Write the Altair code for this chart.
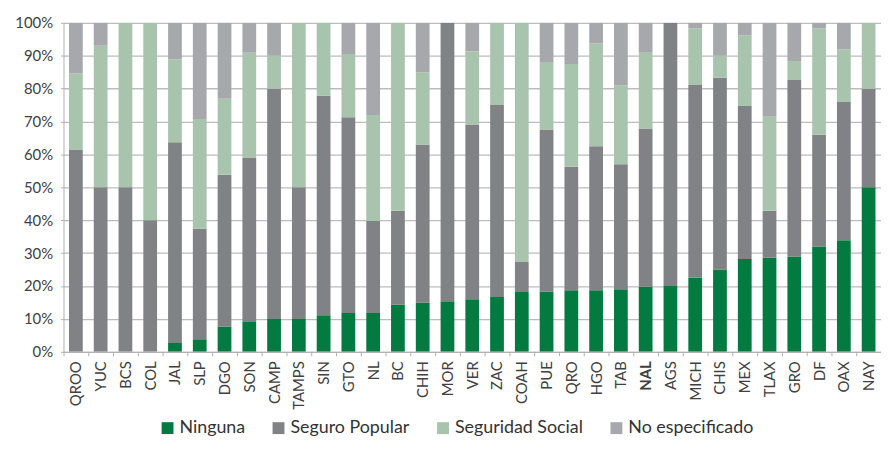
import altair as alt
import pandas as pd

states = ["QROO", "YUC", "BCS", "COL", "JAL", "SLP", "DGO", "SON", "CAMP", "TAMPS",
          "SIN", "GTO", "NL", "BC", "CHIH", "MOR", "VER", "ZAC", "COAH", "PUE",
          "QRO", "HGO", "TAB", "NAL", "AGS", "MICH", "CHIS", "MEX", "TLAX", "GRO",
          "DF", "OAX", "NAY"]

ninguna = [0, 0, 0, 0, 2.7, 3.8, 7.7, 9.1, 10, 10, 11.1, 11.8, 11.8, 14.3, 15, 15.4,
           16, 16.7, 18.2, 18.3, 18.75, 18.75, 19, 19.8, 20, 22.5, 25, 28.2, 28.6, 29,
           32, 33.9, 50]
seguro_popular = [61.5, 50, 50, 40, 61, 33.6, 46.2, 50, 70, 40, 66.7, 59.5, 28, 28.6,
                  48, 84.6, 53.2, 58.3, 9.1, 49.3, 37.5, 43.75, 38, 48.1, 80, 58.6,
                  58.3, 46.5, 14.3, 53.6, 34, 42, 30]
seguridad_social = [23.1, 43, 50, 60, 25.2, 33.4, 23.1, 31.8, 10, 50, 22.2, 19.2, 32.2,
                    57.1, 22, 0, 22.2, 25, 72.7, 20.5, 31.25, 31.25, 24, 23.2, 0, 17.2,
                    6.7, 21.5, 28.6, 5.8, 32.3, 16.1, 20]
no_especificado = [15.4, 7, 0, 0, 11.1, 29.2, 23.1, 9.1, 10, 0, 0, 9.5, 28, 0, 15, 0,
                   8.7, 0, 0, 11.9, 12.5, 6.25, 19, 8.9, 0, 1.7, 10, 3.8, 28.6, 11.6,
                   1.7, 8, 0]

series_names = ["Ninguna", "Seguro Popular", "Seguridad Social", "No especificado"]
series_values = [ninguna, seguro_popular, seguridad_social, no_especificado]
colors = ["#037b40", "#808285", "#a8c4ad", "#a7a8ac"]

rows = []
for k, (name, vals) in enumerate(zip(series_names, series_values)):
    for st, v in zip(states, vals):
        rows.append({"estado": st, "serie": name, "valor": v, "orden": k})
df = pd.DataFrame(rows)

font = "Lato"

chart = alt.Chart(df).mark_bar(width=alt.RelativeBandSize(0.555), clip=True).encode(
    x=alt.X("estado:N", sort=states, title=None,
            scale=alt.Scale(paddingInner=0, paddingOuter={"expr": "-0.155"}, align=0),
            axis=alt.Axis(labelAngle=270, labelFontSize=15, labelColor="#404040",
                          labelFont=font, labelPadding=5, tickSize=4, tickColor="#b0b0b0",
                          tickBand="extent", domainColor="#b0b0b0", domainWidth=1,
                          labelFontWeight={"condition": {"test": "datum.value === 'NAL'",
                                                         "value": "bold"},
                                           "value": "normal"})),
    y=alt.Y("valor:Q", stack="normalize", title=None,
            scale=alt.Scale(domain=[0, 1]),
            axis=alt.Axis(format=".0%", values=[i / 10 for i in range(11)],
                          labelFontSize=15, labelColor="#404040", labelFont=font,
                          labelPadding=8, tickSize=3, tickColor="#b0b0b0",
                          domainColor="#b0b0b0", gridColor="#bcbcbc", gridWidth=1.3)),
    color=alt.Color("serie:N", sort=series_names,
                    scale=alt.Scale(domain=series_names, range=colors),
                    legend=alt.Legend(title=None, orient="none", direction="horizontal",
                                      legendX=96, legendY=400, symbolType="square",
                                      symbolSize=144, symbolStrokeWidth=0,
                                      labelFontSize=18, labelFont=font,
                                      labelColor="#333333", columnPadding=24,
                                      labelOffset=3, padding=0)),
    order=alt.Order("orden:Q", sort="ascending"),
).properties(
    width=825, height=332,
    autosize=alt.AutoSizeParams(type="none"),
    padding={"left": 56, "top": 13, "right": 0, "bottom": 86},
).configure_view(stroke=None)

chart.save("out.html", embed_options={"renderer": "svg", "actions": False})
